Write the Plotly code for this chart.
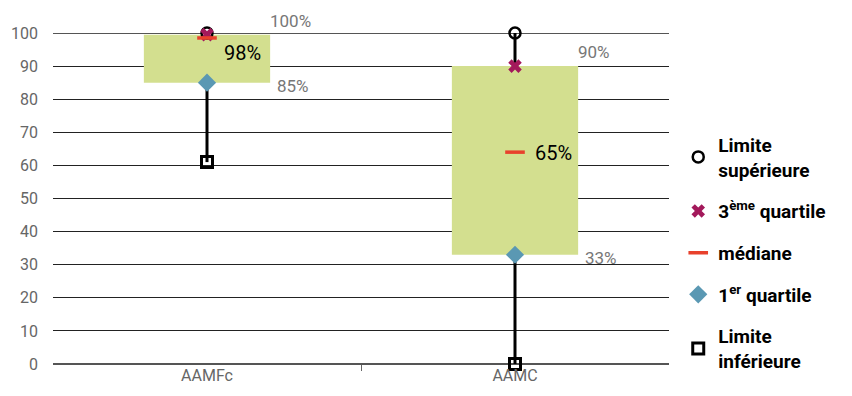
import plotly.graph_objects as go

categories = ["AAMFc", "AAMC"]
upper_limit = [100, 100]
q3 = [99.5, 90]
median = [98.5, 64]
q1 = [85, 33]
lower_limit = [61, 0]
q3_labels = ["100%", "90%"]
median_labels = ["98%", "65%"]
q1_labels = ["85%", "33%"]
y_ticks = [0, 10, 20, 30, 40, 50, 60, 70, 80, 90, 100]

FONT = "Roboto, Liberation Sans Narrow, sans-serif"
BOX_W = 0.41
CAT_PX = 308

fig = go.Figure()

# box (Q1 -> Q3)
fig.add_trace(go.Bar(
    x=categories, y=[b - a for a, b in zip(q1, q3)], base=q1, width=BOX_W,
    marker=dict(color="#D3DF8F", line=dict(width=0)), showlegend=False, hoverinfo="skip"))

# whiskers outside the box
wx, wy = [], []
for c, lo, a, b, hi in zip(categories, lower_limit, q1, q3, upper_limit):
    wx += [c, c, None, c, c, None]
    wy += [lo, a, None, b, hi, None]
fig.add_trace(go.Scatter(x=wx, y=wy, mode="lines", line=dict(color="black", width=3),
                         showlegend=False, hoverinfo="skip", cliponaxis=False))

series = [
    ("Limite<br>supérieure", upper_limit, dict(symbol="circle-open", size=11, color="black", line=dict(width=2.5, color="black"))),
    ("3<sup>ème</sup> quartile", q3, dict(symbol="x", size=12, color="#A3195B", line=dict(width=0))),
    ("médiane", median, dict(symbol="line-ew", size=14, color="#E8412C", line=dict(width=3.5, color="#E8412C"))),
    ("1<sup>er</sup> quartile", q1, dict(symbol="diamond", size=14, color="#5A98B3", line=dict(width=0))),
    ("Limite<br>inférieure", lower_limit, dict(symbol="square-open", size=11, color="black", line=dict(width=3, color="black"))),
]
for i, (name, vals, mk) in enumerate(series):
    fig.add_trace(go.Scatter(x=categories, y=vals, mode="markers", name=name, marker=mk,
                             legendgroup=f"g{i}", hoverinfo="skip", cliponaxis=False))

# labels
for i, c in enumerate(categories):
    fig.add_annotation(x=c, y=q3[i], text=q3_labels[i], showarrow=False, xanchor="left", yanchor="bottom",
                       xshift=BOX_W / 2 * CAT_PX - 2, yshift=2, font=dict(family=FONT, size=17, color="#777777"))
    fig.add_annotation(x=c, y=q1[i], text=q1_labels[i], showarrow=False, xanchor="left", yanchor="middle",
                       xshift=BOX_W / 2 * CAT_PX + 5, yshift=-3, font=dict(family=FONT, size=17, color="#777777"))
    fig.add_annotation(x=c, y=median[i], text=median_labels[i], showarrow=False, xanchor="left", yanchor="middle",
                       xshift=15 if i == 0 else 18, yshift=-15 if i == 0 else -1,
                       font=dict(family=FONT, size=20, color="black"))

fig.update_layout(
    width=852, height=396,
    margin=dict(l=53, r=183, t=33, b=32, autoexpand=False),
    plot_bgcolor="white", paper_bgcolor="white",
    barmode="overlay",
    font=dict(family=FONT),
    xaxis=dict(type="category", range=[-0.5, 1.5], showgrid=False, zeroline=False, showline=False,
               ticks="", tickfont=dict(family=FONT, size=16, color="#666666")),
    xaxis2=dict(overlaying="x", range=[-0.5, 1.5], tickvals=[0.5], ticks="outside", ticklen=6,
                tickcolor="#666666", showticklabels=False, showgrid=False, zeroline=False, side="bottom"),
    yaxis=dict(range=[0, 100], tickvals=y_ticks, showgrid=True, gridcolor="#222222", gridwidth=1,
               zeroline=True, zerolinecolor="#555555", zerolinewidth=2, showline=False, ticks="",
               ticklabelstandoff=14, tickfont=dict(family=FONT, size=16, color="#666666")),
    legend=dict(x=1.015, y=0.72, xanchor="left", yanchor="top", tracegroupgap=14,
                font=dict(family=FONT, size=19, color="black", weight="bold"),
                itemsizing="trace", bgcolor="rgba(0,0,0,0)"),
)
# dummy trace to activate xaxis2 tick
fig.add_trace(go.Scatter(x=[0.5], y=[None], xaxis="x2", showlegend=False, hoverinfo="skip"))
fig.add_shape(type="line", xref="paper", yref="y", x0=0, x1=1, y0=100, y1=100,
              line=dict(color="#555555", width=2), layer="below")

fig.write_html("out.html")
